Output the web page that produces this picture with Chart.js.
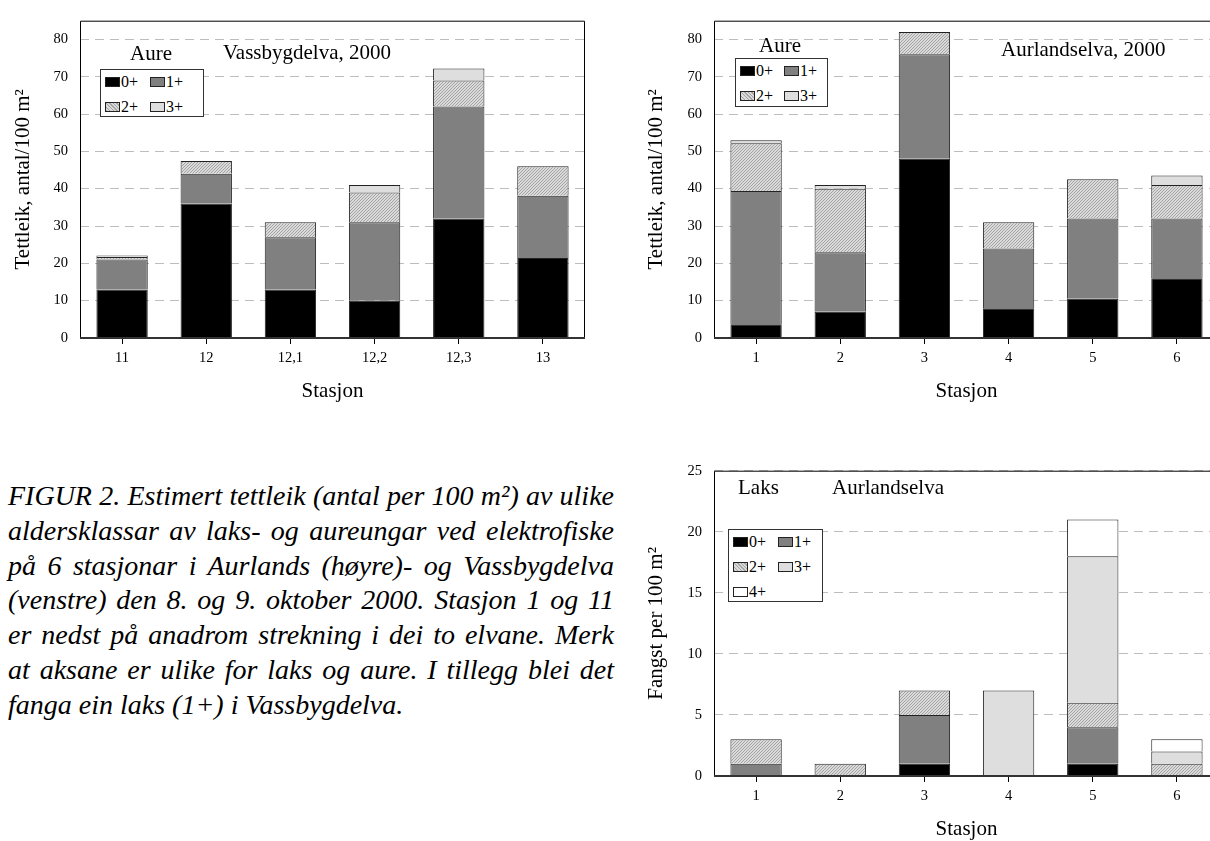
<!DOCTYPE html>
<html>
<head>
<meta charset="utf-8">
<script src="https://cdn.jsdelivr.net/npm/chart.js@4.4.1/dist/chart.umd.min.js"></script>
<style>
html, body { margin: 0; padding: 0; background: #fff; }
body { position: relative; width: 1210px; height: 841px; overflow: hidden; font-family: 'Liberation Serif', 'Times New Roman', serif; color: #000; }
canvas { position: absolute; }
.lbl { position: absolute; font-size: 21px; line-height: 21px; white-space: nowrap; }
.legend { position: absolute; border: 1px solid #333; background: #fff; box-sizing: border-box; transform: translateZ(0); }
.item { position: absolute; font-size: 16px; line-height: 16px; white-space: nowrap; display: flex; align-items: center; }
.sw { display: inline-block; width: 13px; height: 8px; border: 1px solid #222; margin-right: 1px; }
#caption { position: absolute; left: 8px; top: 479px; width: 606px; font-style: italic; font-size: 28px; line-height: 34.8px; }
#caption div { text-align: justify; text-align-last: justify; white-space: nowrap; }
#caption div.last { text-align-last: left; }
</style>
</head>
<body>

<canvas id="vassChart" width="600" height="420" style="left:0px; top:0px;"></canvas>
<canvas id="aurlChart" width="600" height="420" style="left:634px; top:0px;"></canvas>
<canvas id="laksChart" width="600" height="400" style="left:634px; top:450px;"></canvas>

<div class="lbl" style="left:130px; top:43px;">Aure</div>
<div class="lbl" style="left:223px; top:41.5px;">Vassbygdelva, 2000</div>
<div class="lbl" style="left:759px; top:34.5px;">Aure</div>
<div class="lbl" style="left:1001px; top:39px;">Aurlandselva, 2000</div>
<div class="lbl" style="left:738px; top:477px;">Laks</div>
<div class="lbl" style="left:832px; top:477px;">Aurlandselva</div>

<div id="legVass" class="legend" style="left:100px; top:69px; width:104px; height:48px;"></div>
<div id="legAurl" class="legend" style="left:735px; top:58px; width:93px; height:49px;"></div>
<div id="legLaks" class="legend" style="left:728px; top:529px; width:95px; height:73px;"></div>

<div id="caption">
  <div>FIGUR 2. Estimert tettleik (antal per 100 m²) av ulike</div>
  <div>aldersklassar av laks- og aureungar ved elektrofiske</div>
  <div>på 6 stasjonar i Aurlands (høyre)- og Vassbygdelva</div>
  <div>(venstre) den 8. og 9. oktober 2000. Stasjon 1 og 11</div>
  <div>er nedst på anadrom strekning i dei to elvane. Merk</div>
  <div>at aksane er ulike for laks og aure. I tillegg blei det</div>
  <div class="last">fanga ein laks (1+) i Vassbygdelva.</div>
</div>

<script>
// age classes (series names)
const ageClasses = ['0+', '1+', '2+', '3+', '4+'];

// Vassbygdelva, aure 2000
const vassStations = ['11', '12', '12,1', '12,2', '12,3', '13'];
const vassAure0 = [13, 36, 13, 10, 32, 21.4];
const vassAure1 = [8, 8, 14, 21, 30, 16.7];
const vassAure2 = [0.7, 3.4, 4, 8, 7, 7.9];
const vassAure3 = [0.4, 0, 0, 2, 3.2, 0];

// Aurlandselva, aure 2000
const aurlStations = ['1', '2', '3', '4', '5', '6'];
const aurlAure0 = [3.7, 7, 48, 8, 10.5, 16];
const aurlAure1 = [35.7, 16, 28, 16, 21.5, 16];
const aurlAure2 = [12.8, 17, 6, 7, 10.5, 9];
const aurlAure3 = [0.8, 1, 0, 0, 0, 2.5];

// Aurlandselva, laks
const aurlLaks0 = [0, 0, 1, 0, 1, 0];
const aurlLaks1 = [1, 0, 4, 0, 3, 0];
const aurlLaks2 = [2, 1, 2, 0, 2, 1];
const aurlLaks3 = [0, 0, 0, 7, 12, 1];
const aurlLaks4 = [0, 0, 0, 0, 3, 1];

// fine hatched fill for 2+
function makeHatch() {
    const c = document.createElement('canvas');
    c.width = 3; c.height = 3;
    const g = c.getContext('2d');
    g.fillStyle = '#dadada';
    g.fillRect(0, 0, 3, 3);
    g.fillStyle = '#a4a4a4';
    g.fillRect(2, 0, 1, 1);
    g.fillRect(1, 1, 1, 1);
    g.fillRect(0, 2, 1, 1);
    return g.createPattern(c, 'repeat');
}

const hatchFill = makeHatch();
const fills = ['#000000', '#808080', hatchFill, '#dedede', '#ffffff'];
const swatchCss = ['#000', '#808080',
    'repeating-linear-gradient(45deg, #a4a4a4 0 1px, #dadada 1px 2.5px)', '#dedede', '#fff'];

Chart.defaults.font.family = "'Liberation Serif', 'Times New Roman', serif";
Chart.defaults.color = '#000';

// box round the plot area
const framePlugin = {
    id: 'frame',
    afterDatasetsDraw(chart) {
        const { ctx, chartArea: a } = chart;
        ctx.save();
        ctx.strokeStyle = '#000';
        ctx.lineWidth = 1;
        ctx.beginPath();
        ctx.moveTo(a.left + 0.5, a.bottom);
        ctx.lineTo(a.left + 0.5, a.top + 0.5);
        ctx.lineTo(a.right - 0.5, a.top + 0.5);
        ctx.lineTo(a.right - 0.5, a.bottom);
        ctx.stroke();
        ctx.strokeStyle = '#333';
        ctx.lineWidth = 2;
        ctx.beginPath();
        ctx.moveTo(a.left, a.bottom);
        ctx.lineTo(a.right, a.bottom);
        ctx.stroke();
        ctx.restore();
    }
};

function makeChart(canvasId, stations, series, yMax, yStep, yTitle, g) {
    const ctx = document.getElementById(canvasId).getContext('2d');
    return new Chart(ctx, {
        type: 'bar',
        data: {
            labels: stations,
            datasets: series.map((vals, i) => ({
                label: ageClasses[i],
                data: vals,
                backgroundColor: fills[i],
                borderColor: '#222',
                borderWidth: 1,
                barPercentage: 0.61,
                categoryPercentage: 1.0
            }))
        },
        options: {
            responsive: false,
            animation: false,
            layout: { padding: { left: 0, right: g.padRight, top: g.padTop, bottom: 0 } },
            plugins: { legend: { display: false }, tooltip: { enabled: false } },
            scales: {
                x: {
                    stacked: true,
                    afterFit: s => { s.height = g.xAxisH; },
                    grid: { drawOnChartArea: false, drawTicks: true, tickLength: 6, color: '#000', offset: false },
                    border: { display: false },
                    ticks: { color: '#000', font: { size: 14.5 }, padding: 5, maxRotation: 0 },
                    title: { display: true, text: 'Stasjon', color: '#000', font: { size: 21 },
                             padding: { top: 0, bottom: g.xTitlePad } }
                },
                y: {
                    stacked: true,
                    min: 0,
                    max: yMax,
                    afterFit: s => { s.width = g.yAxisW; },
                    grid: { color: '#bdbdbd', drawTicks: false },
                    border: { display: false, dash: [9, 6] },
                    ticks: { stepSize: yStep, includeBounds: false, color: '#000', font: { size: 14.5 }, padding: 12 },
                    title: { display: true, text: yTitle, color: '#000', font: { size: 21 },
                             padding: { top: g.yTitlePad, bottom: 0 } }
                }
            }
        },
        plugins: [framePlugin]
    });
}

function makeLegend(id, count, colW, rowH) {
    const box = document.getElementById(id);
    for (let i = 0; i < count; i++) {
        const item = document.createElement('div');
        item.className = 'item';
        item.style.left = (4 + (i % 2) * colW) + 'px';
        item.style.top = (4 + Math.floor(i / 2) * rowH) + 'px';
        const sw = document.createElement('span');
        sw.className = 'sw';
        sw.style.background = swatchCss[i];
        item.appendChild(sw);
        item.appendChild(document.createTextNode(ageClasses[i]));
        box.appendChild(item);
    }
}

makeChart('vassChart', vassStations, [vassAure0, vassAure1, vassAure2, vassAure3],
    85, 10, 'Tettleik, antal/100 m²',
    { yAxisW: 80, xAxisH: 82, padRight: 15, padTop: 12, xTitlePad: 15.5, yTitlePad: 11 });

makeChart('aurlChart', aurlStations, [aurlAure0, aurlAure1, aurlAure2, aurlAure3],
    85, 10, 'Tettleik, antal/100 m²',
    { yAxisW: 80, xAxisH: 82, padRight: 15, padTop: 12, xTitlePad: 15.5, yTitlePad: 9.5 });

makeChart('laksChart', aurlStations, [aurlLaks0, aurlLaks1, aurlLaks2, aurlLaks3, aurlLaks4],
    25, 5, 'Fangst per 100 m²',
    { yAxisW: 80, xAxisH: 74, padRight: 15, padTop: 12, xTitlePad: 7.5, yTitlePad: 9.5 });

makeLegend('legVass', 4, 45, 25);
makeLegend('legAurl', 4, 44, 25);
makeLegend('legLaks', 5, 45, 25);
</script>
</body>
</html>
